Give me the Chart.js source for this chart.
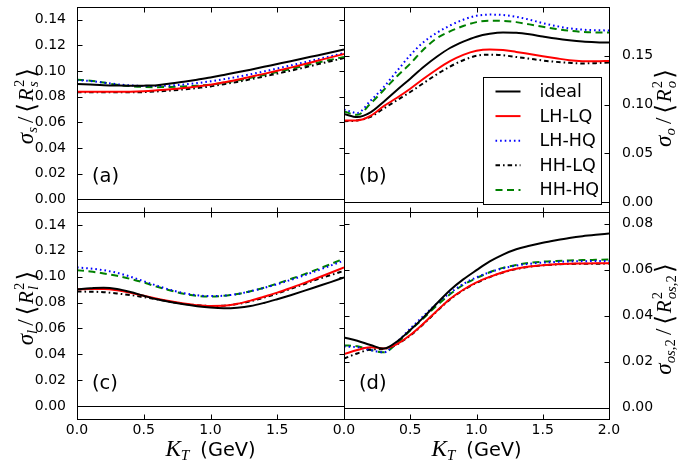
<html>
<head>
<script src="https://cdn.jsdelivr.net/npm/chart.js@4.4.1/dist/chart.umd.min.js"></script>
<style>
body { margin: 0; background: #fff; }
#wrap { position: relative; width: 689px; height: 461px; }
#wrap canvas { position: absolute; left: 0; top: 0; }
</style>
</head>
<body>
<div id="wrap">
  <canvas id="pa" width="689" height="461"></canvas>
  <canvas id="pb" width="689" height="461"></canvas>
  <canvas id="pc" width="689" height="461"></canvas>
  <canvas id="pd" width="689" height="461"></canvas>
</div>
<script>
// K_T grid (GeV)
var kt = [0, 0.1, 0.2, 0.3, 0.4, 0.5, 0.6, 0.7, 0.8, 0.9, 1.0, 1.1, 1.2, 1.3, 1.4, 1.5, 1.6, 1.7, 1.8, 1.9, 2.0];
var xTicks = [0, 0.5, 1.0, 1.5, 2.0];
var names = ['ideal', 'LH-LQ', 'LH-HQ', 'HH-LQ', 'HH-HQ'];

// (a) sigma_s / <R_s^2>
var a_ideal = [0.0900,0.0895,0.0890,0.0887,0.0885,0.0886,0.0890,0.0903,0.0917,0.0933,0.0950,0.0970,0.0990,0.1011,0.1033,0.1055,0.1077,0.1100,0.1122,0.1145,0.1168];
var a_lhlq  = [0.0838,0.0838,0.0838,0.0838,0.0839,0.0843,0.0850,0.0858,0.0868,0.0880,0.0893,0.0912,0.0932,0.0955,0.0978,0.1002,0.1027,0.1053,0.1080,0.1107,0.1133];
var a_lhhq  = [0.0928,0.0922,0.0910,0.0897,0.0888,0.0884,0.0884,0.0887,0.0895,0.0906,0.0920,0.0937,0.0955,0.0975,0.0997,0.1020,0.1044,0.1068,0.1092,0.1116,0.1140];
var a_hhlq  = [0.0835,0.0835,0.0834,0.0834,0.0834,0.0836,0.0841,0.0848,0.0857,0.0868,0.0880,0.0897,0.0915,0.0936,0.0957,0.0980,0.1003,0.1027,0.1052,0.1077,0.1102];
var a_hhhq  = [0.0933,0.0925,0.0910,0.0893,0.0882,0.0876,0.0874,0.0876,0.0880,0.0886,0.0893,0.0908,0.0926,0.0947,0.0970,0.0993,0.1017,0.1041,0.1065,0.1088,0.1110];

// (b) sigma_o / <R_o^2>
var b_ideal = [0.0905,0.0872,0.0920,0.1030,0.1150,0.1266,0.1385,0.1490,0.1580,0.1645,0.1696,0.1725,0.1738,0.1735,0.1720,0.1698,0.1677,0.1660,0.1647,0.1640,0.1636];
var b_lhlq  = [0.0836,0.0838,0.0885,0.0985,0.1070,0.1163,0.1265,0.1360,0.1445,0.1510,0.1552,0.1565,0.1560,0.1540,0.1518,0.1496,0.1475,0.1455,0.1445,0.1443,0.1448];
var b_lhhq  = [0.0950,0.0915,0.1040,0.1180,0.1345,0.1506,0.1640,0.1735,0.1810,0.1870,0.1910,0.1922,0.1918,0.1900,0.1870,0.1835,0.1805,0.1782,0.1768,0.1762,0.1760];
var b_hhlq  = [0.0830,0.0838,0.0875,0.0960,0.1045,0.1129,0.1220,0.1310,0.1390,0.1455,0.1500,0.1512,0.1505,0.1488,0.1470,0.1452,0.1438,0.1428,0.1422,0.1425,0.1432];
var b_hhhq  = [0.0930,0.0895,0.1010,0.1150,0.1290,0.1420,0.1565,0.1680,0.1750,0.1805,0.1845,0.1860,0.1858,0.1845,0.1822,0.1798,0.1775,0.1757,0.1745,0.1740,0.1740];

// (c) sigma_l / <R_l^2>
var c_ideal = [0.0903,0.0910,0.0915,0.0905,0.0882,0.0852,0.0825,0.0805,0.0787,0.0772,0.0761,0.0756,0.0760,0.0773,0.0797,0.0826,0.0857,0.0890,0.0924,0.0958,0.0994];
var c_lhlq  = [0.0903,0.0905,0.0905,0.0895,0.0875,0.0852,0.0830,0.0810,0.0793,0.0780,0.0774,0.0775,0.0790,0.0815,0.0845,0.0877,0.0913,0.0950,0.0990,0.1030,0.1071];
var c_lhhq  = [0.1071,0.1063,0.1050,0.1030,0.1000,0.0965,0.0930,0.0898,0.0873,0.0856,0.0850,0.0853,0.0866,0.0887,0.0913,0.0942,0.0975,0.1010,0.1047,0.1086,0.1125];
var c_hhlq  = [0.0885,0.0884,0.0880,0.0870,0.0858,0.0842,0.0825,0.0806,0.0790,0.0779,0.0774,0.0776,0.0788,0.0810,0.0838,0.0870,0.0905,0.0942,0.0980,0.1012,0.1045];
var c_hhhq  = [0.1050,0.1040,0.1025,0.1007,0.0983,0.0955,0.0922,0.0893,0.0868,0.0852,0.0846,0.0852,0.0866,0.0888,0.0915,0.0947,0.0982,0.1018,0.1057,0.1097,0.1140];

// (d) sigma_os,2 / <R^2_os,2>
var d_ideal = [0.0305,0.0290,0.0272,0.0256,0.0287,0.0337,0.0392,0.0452,0.0510,0.0557,0.0597,0.0635,0.0665,0.0688,0.0703,0.0716,0.0727,0.0737,0.0745,0.0751,0.0756];
var d_lhlq  = [0.0232,0.0250,0.0262,0.0257,0.0276,0.0315,0.0365,0.0420,0.0472,0.0512,0.0544,0.0568,0.0588,0.0603,0.0613,0.0619,0.0623,0.0625,0.0626,0.0627,0.0627];
var d_lhhq  = [0.0265,0.0262,0.0250,0.0240,0.0285,0.0343,0.0398,0.0452,0.0498,0.0537,0.0566,0.0588,0.0605,0.0617,0.0625,0.0630,0.0633,0.0635,0.0636,0.0637,0.0637];
var d_hhlq  = [0.0213,0.0235,0.0252,0.0255,0.0275,0.0313,0.0363,0.0418,0.0470,0.0510,0.0542,0.0567,0.0587,0.0602,0.0612,0.0618,0.0622,0.0624,0.0625,0.0625,0.0626];
var d_hhhq  = [0.0270,0.0266,0.0250,0.0240,0.0280,0.0335,0.0388,0.0443,0.0492,0.0533,0.0563,0.0588,0.0607,0.0620,0.0629,0.0634,0.0637,0.0639,0.0641,0.0642,0.0643];

// y tick labels per panel
var yTicksAC = [0, 0.02, 0.04, 0.06, 0.08, 0.10, 0.12, 0.14];
var yTicksB  = [0, 0.05, 0.10, 0.15];
var yTicksD  = [0, 0.02, 0.04, 0.06, 0.08];

var lineColors = ['#000000', '#ff0000', '#0000ff', '#000000', '#008000'];
var lineDash = [[], [], [1.6, 3], [4.5, 3, 1.6, 3], [7, 4.5]];

var SANS = '"DejaVu Sans", sans-serif';
var SERIF = '"Liberation Serif", serif';

// draws a run of segments (math-ish text) starting at x=0, baseline y=0
function richRun(ctx, segs, size, draw) {
    var x = 0, maxX = 0;
    for (var i = 0; i < segs.length; i++) {
        var s = segs[i];
        var sz = size * (s.sc || 1);
        ctx.font = (s.it ? 'italic ' : '') + sz + 'px ' + (s.sans ? SANS : SERIF);
        var w = ctx.measureText(s.t).width;
        if (draw) ctx.fillText(s.t, x, (s.dy || 0) * size);
        if (s.stack) {
            maxX = Math.max(maxX, x + w);
        } else {
            x = Math.max(x + w, maxX);
            maxX = 0;
        }
        x += (s.gap || 0) * size;
    }
    return x;
}

function drawRich(ctx, segs, size, cx, cy, rot) {
    ctx.save();
    ctx.translate(cx, cy);
    if (rot) ctx.rotate(-Math.PI / 2);
    ctx.fillStyle = '#000';
    ctx.textBaseline = 'alphabetic';
    ctx.textAlign = 'left';
    var w = richRun(ctx, segs, size, false);
    ctx.translate(-w / 2, 0);
    richRun(ctx, segs, size, true);
    ctx.restore();
}

function yLabel(sub) {
    var segs = [{t:'σ',it:1,sc:1.1}];
    sub.forEach(function (p, i) { segs.push({t:p[0],it:p[1],sc:.7,dy:.18,gap:i == sub.length - 1 ? .2 : 0}); });
    segs.push({t:'/',sc:1.1,gap:.18});
    segs.push({t:'⟨',sans:1,sc:1.2,dy:.08,gap:.08});
    segs.push({t:'R',it:1,gap:.06});
    segs.push({t:'2',sc:.7,dy:-.45,stack:1});
    sub.forEach(function (p, i) { segs.push({t:p[0],it:p[1],sc:.7,dy:.25,gap:i == sub.length - 1 ? .1 : 0}); });
    segs.push({t:'⟩',sans:1,sc:1.2,dy:.08});
    return segs;
}

var labA = yLabel([['s', 1]]);
var labB = yLabel([['o', 1]]);
var labC = yLabel([['l', 1]]);
var labD = yLabel([['os', 1], [',2', 0]]);
var labX = [{t:'K',it:1,sc:1.05},{t:'T',it:1,sc:.7,dy:.2,gap:.5},{t:'(GeV)',sans:1,sc:.88}];

var framePlugin = {
    id: 'frame',
    afterDraw: function (chart, args, o) {
        var ctx = chart.ctx, ca = chart.chartArea;
        var xs = chart.scales.x, ys = chart.scales.y;
        var L = Math.round(ca.left) + 0.5, R = Math.round(ca.right) + 0.5;
        var T = Math.round(ca.top) + 0.5, B = Math.round(ca.bottom) + 0.5;
        ctx.save();
        ctx.strokeStyle = '#000';
        ctx.lineWidth = 1;
        ctx.beginPath();
        var y0 = Math.round(ys.getPixelForValue(0)) + 0.5;
        ctx.moveTo(L, y0); ctx.lineTo(R, y0);
        xs.ticks.forEach(function (t) {
            var px = Math.round(xs.getPixelForValue(t.value)) + 0.5;
            ctx.moveTo(px, T); ctx.lineTo(px, T + 5);
            ctx.moveTo(px, B); ctx.lineTo(px, B - 5);
        });
        ys.ticks.forEach(function (t) {
            var py = Math.round(ys.getPixelForValue(t.value)) + 0.5;
            ctx.moveTo(L, py); ctx.lineTo(L + 5, py);
            ctx.moveTo(R, py); ctx.lineTo(R - 5, py);
        });
        ctx.stroke();
        ctx.strokeRect(L, T, R - L, B - T);

        // panel tag
        ctx.fillStyle = '#000';
        ctx.font = '19.5px ' + SANS;
        ctx.textBaseline = 'middle';
        ctx.fillText(o.tag, ca.left + 15, ca.bottom - 35);

        // axis titles
        drawRich(ctx, o.ylab, 21, o.ylabX, o.ylabY, true);
        if (o.xlab) drawRich(ctx, labX, 22, (ca.left + ca.right) / 2, 456, false);

        if (o.legend) {
            var bx = Math.round(ca.left + 139) + 0.5, by = Math.round(ca.top + 70) + 0.5;
            ctx.fillStyle = '#fff';
            ctx.fillRect(bx, by, 118, 127);
            ctx.strokeRect(bx, by, 118, 127);
            chart.data.datasets.forEach(function (ds, i) {
                var ry = by + 14 + i * 24.6;
                ctx.strokeStyle = ds.borderColor;
                ctx.lineWidth = ds.borderWidth;
                ctx.setLineDash(ds.borderDash);
                ctx.beginPath();
                ctx.moveTo(bx + 12, ry); ctx.lineTo(bx + 37, ry);
                ctx.stroke();
                ctx.setLineDash([]);
                ctx.fillStyle = '#000';
                ctx.font = '17.5px ' + SANS;
                ctx.textBaseline = 'middle';
                ctx.fillText(ds.label, bx + 56, ry + 1);
            });
        }
        ctx.restore();
    }
};

function fixSize(w, h) {
    return function (s) {
        if (s.isHorizontal()) s.height = h; else s.width = w;
        s.paddingTop = 0; s.paddingBottom = 0; s.paddingLeft = 0; s.paddingRight = 0;
    };
}

function makePanel(id, series, opt) {
    var datasets = series.map(function (vals, i) {
        return {
            label: names[i],
            data: kt.map(function (k, j) { return {x: k, y: vals[j]}; }),
            borderColor: lineColors[i],
            borderDash: lineDash[i],
            borderWidth: 2,
            pointRadius: 0,
            fill: false,
            cubicInterpolationMode: 'monotone'
        };
    });
    return new Chart(document.getElementById(id), {
        type: 'line',
        data: { datasets: datasets },
        plugins: [framePlugin],
        options: {
            responsive: false,
            animation: false,
            devicePixelRatio: 1,
            layout: { padding: opt.pad },
            plugins: {
                legend: { display: false },
                tooltip: { enabled: false },
                frame: opt.frame
            },
            scales: {
                x: {
                    type: 'linear', min: 0, max: 2,
                    afterBuildTicks: function (s) { s.ticks = xTicks.map(function (v) { return {value: v}; }); },
                    afterFit: fixSize(0, opt.xh),
                    grid: { display: false },
                    border: { display: false },
                    ticks: {
                        display: opt.xh > 0, maxRotation: 0, padding: -5, color: '#000',
                        font: { family: SANS, size: 14 },
                        callback: function (v) { return (opt.hideLastX && v == 2) ? '' : v.toFixed(1); }
                    }
                },
                y: {
                    type: 'linear', min: opt.ymin, max: opt.ymax, position: opt.ypos,
                    afterBuildTicks: function (s) { s.ticks = opt.yticks.map(function (v) { return {value: v}; }); },
                    afterFit: fixSize(opt.yw, 0),
                    grid: { display: false },
                    border: { display: false },
                    ticks: {
                        padding: opt.ypos == 'left' ? 3 : 5, color: '#000',
                        font: { family: SANS, size: 14 },
                        callback: function (v) { return v.toFixed(2); }
                    }
                }
            }
        }
    });
}

makePanel('pa', [a_ideal, a_lhlq, a_lhhq, a_hhlq, a_hhhq], {
    pad: {left: 0, top: 7, right: 345, bottom: 249}, yw: 77, xh: 0,
    ymin: -0.01, ymax: 0.15, yticks: yTicksAC, ypos: 'left',
    frame: {tag: '(a)', ylab: labA, ylabX: 33, ylabY: 106}
});
makePanel('pb', [b_ideal, b_lhlq, b_lhhq, b_hhlq, b_hhhq], {
    pad: {left: 344, top: 7, right: 0, bottom: 249}, yw: 80, xh: 0,
    ymin: -0.01, ymax: 0.20, yticks: yTicksB, ypos: 'right',
    frame: {tag: '(b)', ylab: labB, ylabX: 671, ylabY: 108, legend: true}
});
makePanel('pc', [c_ideal, c_lhlq, c_lhhq, c_hhlq, c_hhhq], {
    pad: {left: 0, top: 212, right: 345, bottom: 0}, yw: 77, xh: 42, hideLastX: true,
    ymin: -0.01, ymax: 0.15, yticks: yTicksAC, ypos: 'left',
    frame: {tag: '(c)', ylab: labC, ylabX: 33, ylabY: 308, xlab: true}
});
makePanel('pd', [d_ideal, d_lhlq, d_lhhq, d_hhlq, d_hhhq], {
    pad: {left: 344, top: 212, right: 0, bottom: 0}, yw: 80, xh: 42,
    ymin: -0.005, ymax: 0.085, yticks: yTicksD, ypos: 'right',
    frame: {tag: '(d)', ylab: labD, ylabX: 671, ylabY: 319, xlab: true}
});
</script>
</body>
</html>
